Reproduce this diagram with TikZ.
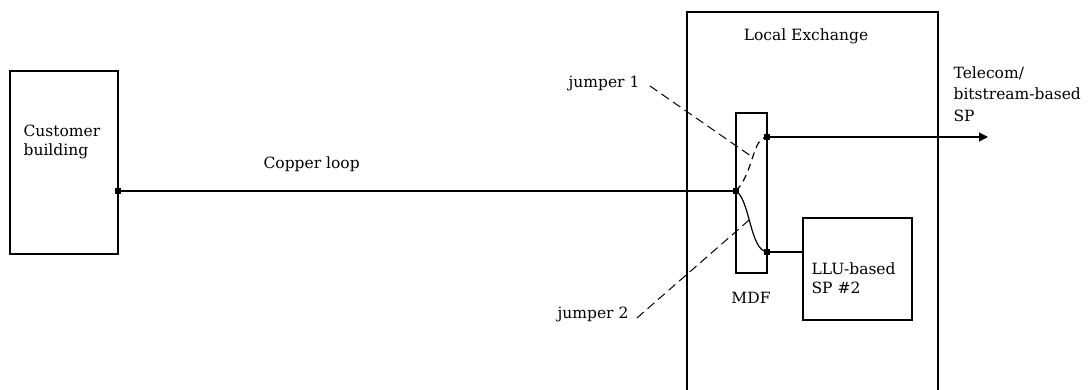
\documentclass[tikz,border=0pt]{standalone}
\usepackage{fontspec}
\setmainfont{DejaVu Serif}
\usetikzlibrary{arrows.meta}

\tikzset{
  box/.style={draw, line width=1.2pt, inner sep=0pt, minimum width=#1},
  lbl/.style={inner sep=0pt, align=left, font=\fontsize{15.5}{19}\selectfont},
  leader/.style={line width=1pt, dash pattern=on 9pt off 5pt},
}

\begin{document}
\begin{tikzpicture}[x=1pt, y=-1pt, line width=1.2pt]
   \useasboundingbox (0,0) rectangle (1090,389);

   % boxes
   \node[box=108pt, minimum height=183pt] (cust) at (64,162.5) {};
   \node[box=251pt, minimum height=388pt] (exch) at (812.5,206) {};
   \node[box=31pt, minimum height=160pt] (mdf) at (751.5,193) {};
   \node[box=109pt, minimum height=102pt] (llu) at (857.5,269) {};

   \coordinate (cb) at (118,191);
   \coordinate (m1) at (736,191);
   \coordinate (m2) at (767,137);
   \coordinate (m3) at (767,252);
   \coordinate (out) at (988,137);

   \draw (cb) -- (m1);
   \draw[-{Triangle[length=9pt,width=9pt]}] (m2) -- (out);
   \draw (m3) -- (m3 -| llu.west);

   % jumpers
   \draw[dash pattern=on 7pt off 5pt] (m1) .. controls (754,172) and (752,138) .. coordinate[pos=0.5] (j1mid) (m2);
   \draw (m1) .. controls (750,200) and (750,250) .. coordinate[pos=0.45] (j2mid) (m3);

   \foreach \p in {cb,m1,m2,m3}{
      \fill ([shift={(-3,-3)}]\p) rectangle ++(6,6);
   }

   % texts
   \node[lbl, anchor=base] (exchname) at (806,40) {Local Exchange};
   \node[lbl, anchor=north west] (custname) at (23,124) {Customer\\building};
   \node[lbl, anchor=base west] (loop) at (263,168) {Copper loop};
   \node[lbl, anchor=base] (mdfname) at (751,303) {MDF};
   \node[lbl, anchor=north west] (lluname) at (811,262) {LLU-based\\SP \#2};
   \node[lbl, anchor=north west] (telecom) at (953,66) {Telecom/\\[2.5pt]bitstream-based\\[2.5pt]SP};
   \node[lbl, anchor=base west] (jlabel1) at (568,87) {jumper 1};
   \node[lbl, anchor=base west] (jlabel2) at (557,318) {jumper 2};

   \draw[leader] ([xshift=10pt,yshift=-3pt]jlabel1.east) -- (j1mid);
   \draw[leader] ([xshift=8pt,yshift=-4pt]jlabel2.east) -- (j2mid);
\end{tikzpicture}
\end{document}
